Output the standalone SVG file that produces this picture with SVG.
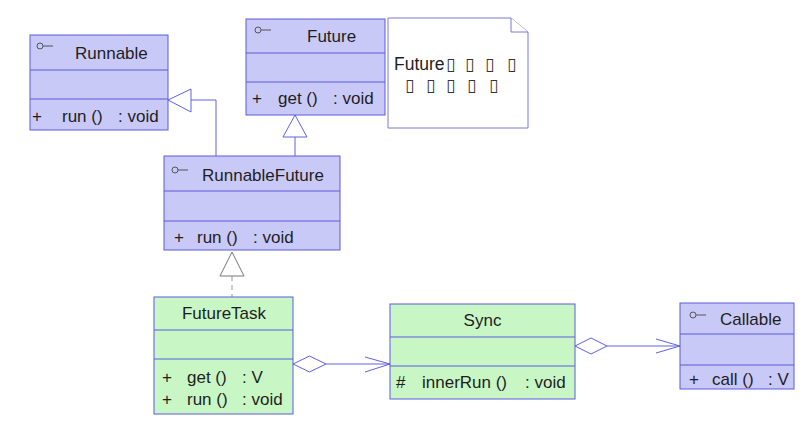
<svg xmlns="http://www.w3.org/2000/svg" width="810" height="426" viewBox="0 0 810 426">
<style>
.iface{fill:#c9c9f8;stroke:#5b5be0;stroke-width:1}
.cls{fill:#c8f7c5;stroke:#5b5be0;stroke-width:1}
.sep{stroke:#5b5be0;stroke-width:1;fill:none}
.t{font-family:"Liberation Sans",Arial,sans-serif;font-size:17px;fill:#1e1e1e}
.tofu{font-family:"DejaVu Sans",sans-serif;font-size:17px;fill:#333}
.c{text-anchor:middle}
.icon{fill:none;stroke:#555;stroke-width:1}
.ln{fill:none;stroke:#6060e6;stroke-width:1}
.tri{fill:#fff;stroke:#6060e6;stroke-width:1}
.trig{fill:#fff;stroke:#777;stroke-width:1}
.dash{fill:none;stroke:#999;stroke-width:1;stroke-dasharray:5,4}
.note{fill:#fff;stroke:#7a7ad8;stroke-width:1}
</style>
<g id="connectors">
  <polyline class="ln" points="216,156 216,100 191,100"/>
  <polygon class="tri" points="168,100 191,89 191,112"/>
  <line class="ln" x1="295" y1="137" x2="295" y2="156"/>
  <polygon class="tri" points="295,115 283,137 307,137"/>
  <line class="dash" x1="232" y1="276" x2="232" y2="297"/>
  <polygon class="trig" points="232,252 220,276 244,276"/>
  <polygon class="tri" points="293,364 309.5,356 326,364 309.5,372"/>
  <line class="ln" x1="326" y1="364" x2="390" y2="364"/>
  <polyline class="ln" points="365,357 390,364 365,372"/>
  <polygon class="tri" points="575,346 591,338 607,346 591,354"/>
  <line class="ln" x1="607" y1="346" x2="680" y2="346"/>
  <polyline class="ln" points="656,339 680,346 656,353"/>
</g>
<g id="Runnable">
  <rect class="iface" x="30" y="35" width="138" height="95"/>
  <line class="sep" x1="30" y1="70" x2="168" y2="70"/>
  <line class="sep" x1="30" y1="99" x2="168" y2="99"/>
  <circle class="icon" cx="40" cy="46" r="3"/><line class="icon" x1="43" y1="46" x2="53" y2="46"/>
  <text class="t" x="75" y="59">Runnable</text>
  <text class="t" y="122"><tspan x="32">+</tspan><tspan x="62">run ()</tspan><tspan x="118">: void</tspan></text>
</g>
<g id="Future">
  <rect class="iface" x="246" y="19" width="139" height="96"/>
  <line class="sep" x1="246" y1="53" x2="385" y2="53"/>
  <line class="sep" x1="246" y1="82" x2="385" y2="82"/>
  <circle class="icon" cx="258" cy="30" r="3"/><line class="icon" x1="261" y1="30" x2="271" y2="30"/>
  <text class="t" x="307" y="42">Future</text>
  <text class="t" y="104"><tspan x="252">+</tspan><tspan x="278">get ()</tspan><tspan x="333">: void</tspan></text>
</g>
<g id="note">
  <polygon class="note" points="388,18 511,18 528,32 528,128 388,128"/>
  <polyline class="note" points="511,18 511,32 528,32"/>
  <text class="t" style="font-size:17.5px" x="394" y="70">Future</text>
  <text class="tofu" x="446 465 485 507" y="70">▯▯▯▯</text>
  <text class="tofu" x="405 426 446 467 489" y="91">▯▯▯▯▯</text>
</g>
<g id="RunnableFuture">
  <rect class="iface" x="164" y="156" width="176" height="94"/>
  <line class="sep" x1="164" y1="191" x2="340" y2="191"/>
  <line class="sep" x1="164" y1="221" x2="340" y2="221"/>
  <circle class="icon" cx="175" cy="170" r="3"/><line class="icon" x1="178" y1="170" x2="188" y2="170"/>
  <text class="t" x="202" y="181">RunnableFuture</text>
  <text class="t" y="243"><tspan x="174">+</tspan><tspan x="197">run ()</tspan><tspan x="253">: void</tspan></text>
</g>
<g id="FutureTask">
  <rect class="cls" x="154" y="297" width="139" height="117"/>
  <line class="sep" x1="154" y1="330" x2="293" y2="330"/>
  <line class="sep" x1="154" y1="359" x2="293" y2="359"/>
  <text class="t c" x="224" y="319">FutureTask</text>
  <text class="t" y="383"><tspan x="162">+</tspan><tspan x="187">get ()</tspan><tspan x="242">: V</tspan></text>
  <text class="t" y="405"><tspan x="162">+</tspan><tspan x="187">run ()</tspan><tspan x="242">: void</tspan></text>
</g>
<g id="Sync">
  <rect class="cls" x="390" y="304" width="185" height="95"/>
  <line class="sep" x1="390" y1="337" x2="575" y2="337"/>
  <line class="sep" x1="390" y1="366" x2="575" y2="366"/>
  <text class="t c" x="482.5" y="326">Sync</text>
  <text class="t" y="388"><tspan x="396">#</tspan><tspan x="422">innerRun ()</tspan><tspan x="525">: void</tspan></text>
</g>
<g id="Callable">
  <rect class="iface" x="680" y="303" width="114" height="86"/>
  <line class="sep" x1="680" y1="334" x2="794" y2="334"/>
  <line class="sep" x1="680" y1="365" x2="794" y2="365"/>
  <circle class="icon" cx="693" cy="315" r="3"/><line class="icon" x1="696" y1="315" x2="706" y2="315"/>
  <text class="t" x="720" y="325">Callable</text>
  <text class="t" y="385"><tspan x="689">+</tspan><tspan x="712">call ()</tspan><tspan x="768">: V</tspan></text>
</g>
</svg>
